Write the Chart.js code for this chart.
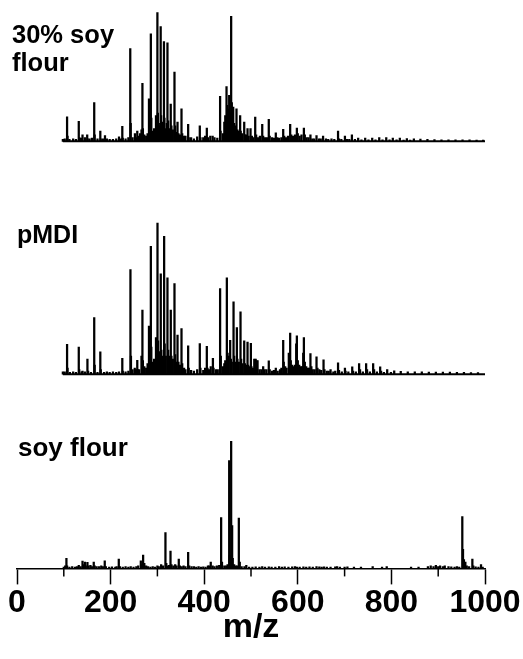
<!DOCTYPE html>
<html><head><meta charset="utf-8">
<script src="https://cdn.jsdelivr.net/npm/chart.js@4"></script>
<style>html,body{margin:0;padding:0;background:#fff}#wrap{width:523px;height:659px;position:relative}</style>
</head><body><div id="wrap"><canvas id="c" width="523" height="659"></canvas></div>
<script>
// ---------- data ----------
const panelLabels = [["30% soy", "flour"], ["pMDI"], ["soy flour"]];
const xTicks = [0, 200, 400, 600, 800, 1000];
const minorTicks = [100, 300, 500, 700, 900];
const scanRange = [98, 1002];
const xTitle = "m/z";

// 30% soy flour (relative intensity, %)
const blendMz = [98,102,107,108,112,120,126,132,133,137,140,145,150,151,155,160,165,166,172,178,179,184,188,192,198,205,212,218,222,225,226,232,238,242,243,247,252,254,257,260,263,266,268,269,272,276,279,282,284,286,287,290,293,297,298,300,301,303,305,307,308,310,312,314,315,318,320,321.5,323,326,328.5,330,333,336.5,338,340,343,345,348,351.5,353,357,360,365.7,367,372,378,385,390.6,392,398,402,405.6,408,413,418,422,428,434,435,440,443,445,447.7,449,451,453.4,455,457.6,459,460,462,464,466,469,471,474,476.8,478,481,485.5,487,490,492.6,495,499,502,505,509,511,515,519,524,526,530,534,538,540,545,549,553,556,560,565,568.8,571,575,579,583.7,586,590,594,598,600,604,608,613,615,619,623,627,631,635,640,645,649,654,660,665,672,678,686,688,693,700.7,705,710,715.6,722,729,736,744,751,759,766,774,781,789,796,803,811,818,826,833,840,848,862,877,892,907,922,937,952,967,982,996];
const blendInt = [1.5,2,19,4,1.5,2,1.5,15.5,3,2.5,5,3,5,2,2,2.5,30,5,2,8,2,2,4.5,2,1.5,1.5,2,3.5,2,11.6,2.5,2,3,72,14,3,6,3,8,4,6,9,45,10,5,4,6,33,15,83.5,18,8,10,20,12,100,22,14,12,89,20,12,15,77.5,18,10,14,76.5,16,10,29,12,9,53.7,12,7,15,6,5,25.3,6,4,4,13.2,3,3,2,3.5,12,3,3,4,10.3,3,4,4,3,2.5,35,8,6,15,20,42.6,28,25,35.7,22,97,30,24,26.6,14,12,25.3,9,8,20,8,6,15,5,5,10,4,10,4,3,18.8,5,3,4,13.2,4,3,3,17,4,3,2.5,6.7,3,2.5,3,9.3,4,3,4,13.2,5,4,5,10.3,6,4,5,10.3,5,3,3,5,2,2,4.5,2,2,4,2,1.5,2,1.5,8,2,1.5,4,1.5,1.5,5,1.5,2.5,1.2,2.5,1.2,2.5,1.2,3,1.2,3,1.2,2.5,1.2,2.5,1,2.2,1,2,1.8,1.5,1.3,1.2,1.2,1.2,1.1,1.1,1,1];

// pMDI
const pmdiMz = [98,102,107,108,113,120,126,132,133,138,140,145,150.5,152,158,165,166,172,178,179,186,192,198,205,212,218,225,226,232,238,242.4,243.5,247,251.6,254,257,258,261,266,268,269,272,276,279,282,283,286,287,290,293,297,298,300.2,301.5,304,307.2,308.5,311,314.4,315.5,318,321.5,323,326,328.6,330,333,336.5,338,340,343,345,348,351.5,353,357,360,365.7,367,372,378,385,390.6,392,398,402,405.6,407,410,414,418.6,420,425,429,434,435.5,440,443,445,448.4,450,452,455.5,457,459,462.7,464,467,469.8,471,474,477.6,479,482,485.5,487,490,492.6,494,497,499.7,501,504,507,510,511.5,514,518,522,526,529,533,538,540,545,549,553,557,562,565,568.8,570,573,576,580.8,583.7,585,588,591,594,596.6,598,600,603,606,609,611.6,613,615,618,621,624,627,629,632,636,640,642,646,650,655,657,662,666,670,676,680,686,688,694,700.7,702,708,716.3,718,724,731,733,739,746,748,754,761,763,769,776,778,784,791,799,806,820,835,850,865,880,895,910,925,940,955,970,985];
const pmdiInt = [1.5,1.5,19.8,4,1.2,1.5,1.2,18,3,1.5,2,1.5,9.9,2,1.2,37.4,6,1.2,14.7,3,1.2,1.5,1.2,1.5,1.2,1.5,10.5,2,1.5,2,69.2,12,3,4,3,9.2,3,3,12,42.4,9,5,4,7,31.9,12,84.6,18,8,10,24.2,14,100,22,15,66.4,16,12,91.2,20,12,63.7,16,12,42.4,12,10,60,13,8,25.9,8,6,30.1,7,4,3,18.7,4,2.5,2,3,20.2,4,2.5,4,18.5,4,3,5,10.5,4,3,3,56.7,12,5,7,9,63.7,14,12,22.4,10,8,47.9,12,8,30.8,10,8,41.3,10,7,22,7,6,21.3,6,5,20.4,5,4,10,9.9,9,9,3,3,5,3,3,8.8,3,2,2.5,4,2,3,4,22.4,8,5,4,14,27.2,9,6,5,6,20,25.3,9,6,5,5,14,24.2,8,5,4,4,13.6,5,3,3,11.4,4,3,2.5,9.4,3,2,2,3,1.5,2,7.5,2.5,1.5,4,2,1.5,4.8,2,1.5,7,3,1.5,7,3,1.5,7,3,1.5,4.8,2,1.2,3,1.2,2.2,1.8,1.6,1.5,1.5,1.4,1.4,1.3,1.3,1.2,1.2,1.1,1.1];

// soy flour
const soyMz = [100,103,105.6,107,112,118,124,128,132,136,140,142,145,147,150.5,153,157,160,164,166,170,175,180,184,187.5,190,197,203,210,213,217.5,220,226,232,238,243,249,255,259,264.6,267,269.5,272,276,280,285,290,295,300,303,308,312,317.2,319,322,325,328,330,334,338,341,345.7,348,352,356,360,365.7,368,373,378,383,388,393,398,403,408,411,414,418,422,427,432,436.2,438,443,447,450,453.4,454.5,457.6,459.7,461,464,468,471,474,476,480,486,490,496,503,510,518,524,530,538,544,552,560,566,572,580,588,594,598,604,612,618,625,632,640,646,651,656,662,670,680,684,690,700,706,720,735,760,780,790,842,858,878,884,890,895,900,904,910,914,922,928,935,940,945,951.5,953,955,958,961,966,973,975,980,986,991.5,995];
const soyInt = [1,2,7.9,2,1,1.5,1,1.5,2.5,1.5,5.8,3,5,2,4.7,2,2.5,1.5,5,2,1.5,1.5,2,1.5,6,1.5,1,1.2,1,1.5,7.4,1.5,1,1.5,1,1.5,1,1.5,2,6,3,10.5,4,2,1.5,1,1.5,1,2,1.5,3,2,28.1,4,2,2.5,13.7,3,2,3,2,7.4,2,1.5,2,1.5,12.6,2,1.5,1.5,1,1.5,1,1.2,1,2,2,5,2,1.5,2,2.5,40,5,2,2,3,84.7,10,100,33.6,8,3,2,2,39.5,5,1.5,1.5,2.5,1,1,1.2,1,1.5,1,1.2,1,1,1.5,1,1.2,1,1.2,1.5,1,1,1.2,1,1.2,1,1.5,1.2,1,1.2,1,1,1.2,1.5,1,1,1.2,1,1,1.5,1,1.5,1,1,1.5,2,1.5,2.5,1.5,2,1.5,2,1.5,1.2,1,1.5,1,40.8,15,7,5,2,1.5,7.4,2,1.2,1,3,1];

// ---------- chart ----------
const FONT = "'Liberation Sans', Arial, Helvetica, sans-serif";
const toPts = (mz, it) => mz.map((m, i) => ({x: m, y: it[i]}));
const baseline = scanRange.map(v => ({x: v, y: 0}));

function barSet(mz, it, axis) {
  return {type: 'bar', data: toPts(mz, it), yAxisID: axis, backgroundColor: '#000',
          borderWidth: 0, barThickness: 1.6, grouped: false};
}
function baseSet(axis) {
  return {type: 'line', data: baseline, yAxisID: axis, borderColor: '#000',
          borderWidth: 2, pointRadius: 0, fill: false};
}

const labelPlugin = {
  id: 'panelLabels',
  afterDraw(chart) {
    const ctx = chart.ctx;
    ctx.save();
    ctx.fillStyle = '#000';
    ctx.textBaseline = 'alphabetic';
    ctx.font = 'bold 25.5px ' + FONT;
    ctx.fillText(panelLabels[0][0], 12, 43);
    ctx.fillText(panelLabels[0][1], 12, 71);
    ctx.font = 'bold 25px ' + FONT;
    ctx.fillText(panelLabels[1][0], 17, 243);
    ctx.font = 'bold 26px ' + FONT;
    ctx.fillText(panelLabels[2][0], 18, 456);
    // minor ticks on the m/z axis
    const xs = chart.scales.x;
    ctx.strokeStyle = '#000';
    ctx.lineWidth = 1.5;
    minorTicks.forEach(v => {
      const px = xs.getPixelForValue(v);
      ctx.beginPath();
      ctx.moveTo(px, xs.top);
      ctx.lineTo(px, xs.top + 8);
      ctx.stroke();
    });
    ctx.restore();
  }
};

const hidden = {display: false};
new Chart(document.getElementById('c'), {
  type: 'bar',
  data: {datasets: [
    barSet(blendMz, blendInt, 'yTop'), baseSet('yTop'),
    barSet(pmdiMz, pmdiInt, 'yMid'), baseSet('yMid'),
    barSet(soyMz, soyInt, 'yBot')
  ]},
  options: {
    responsive: false, animation: false, devicePixelRatio: 1,
    layout: {padding: {left: 17, right: 38, top: 0, bottom: 14.6}},
    plugins: {legend: hidden, tooltip: {enabled: false}},
    scales: {
      x: {type: 'linear', min: 0, max: 1000, offset: false,
          afterBuildTicks: s => { s.ticks = xTicks.map(v => ({value: v})); },
          grid: {offset: false, drawOnChartArea: false, tickLength: 16, tickColor: '#000', tickWidth: 1.5},
          border: {color: '#000', width: 1.5},
          ticks: {color: '#000', padding: 0, maxRotation: 0, autoSkip: false,
                  callback: v => String(v),
                  font: {family: FONT, size: 32, weight: 'bold', lineHeight: 1.2}},
          title: {display: true, text: xTitle, color: '#000', padding: {top: -12.4, bottom: 0},
                  font: {family: FONT, size: 34, weight: 'bold', lineHeight: 1}}},
      yTop: {type: 'linear', display: false, min: -331.4, max: 109.7},
      yMid: {type: 'linear', display: false, min: -128.6, max: 247.7},
      yBot: {type: 'linear', display: false, min: 0, max: 447.0}
    }
  },
  plugins: [labelPlugin]
});
</script></body></html>
